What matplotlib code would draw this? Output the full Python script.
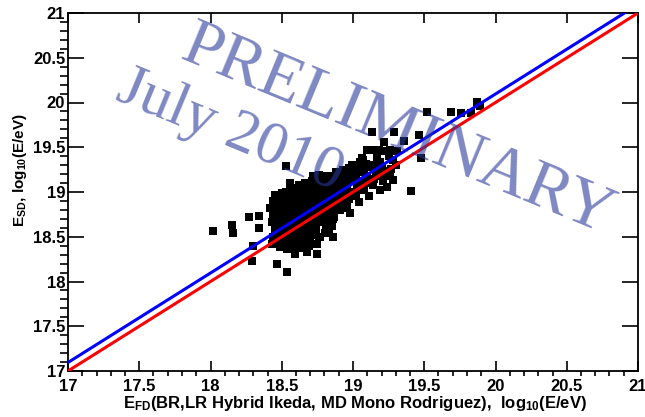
import matplotlib.pyplot as plt
from matplotlib.ticker import MultipleLocator

plt.rcParams['font.family'] = 'Liberation Sans'
plt.rcParams['font.weight'] = 'bold'
plt.rcParams['mathtext.fontset'] = 'custom'
plt.rcParams['mathtext.rm'] = 'Liberation Sans:bold'
plt.rcParams['mathtext.default'] = 'rm'

# log10(E/eV): FD reconstruction vs SD reconstruction, event by event
log_e_fd = [
    # stragglers below / left of the bulk
    18.02, 18.15, 18.16, 18.27, 18.34, 18.34, 18.30, 18.29, 18.47, 18.54,
    18.59, 18.68, 18.75, 18.53,
    # lower edge of the bulk
    18.93, 18.98, 19.04, 19.11, 19.19, 19.24, 19.28, 18.87, 18.83, 18.86,
    # high energy tail
    19.13, 19.29, 19.22, 19.36, 19.46, 19.48, 19.41, 19.52, 19.69, 19.76,
    19.83, 19.87, 19.89, 19.10, 19.14, 19.18, 19.22, 19.26, 19.31, 19.28,
    19.07, 19.01, 18.97, 18.93,
    # bulk
    18.43, 18.44, 18.45, 18.43, 18.44, 18.42, 18.44, 18.45,
    18.49, 18.48, 18.50, 18.49, 18.48, 18.50, 18.49, 18.48, 18.50,
    18.54, 18.55, 18.53, 18.54, 18.55, 18.53, 18.54, 18.55, 18.53, 18.56,
    18.59, 18.60, 18.58, 18.59, 18.60, 18.58, 18.59, 18.61, 18.59, 18.62,
    18.64, 18.65, 18.63, 18.64, 18.66, 18.64, 18.63, 18.65, 18.64, 18.66,
    18.69, 18.70, 18.68, 18.70, 18.69, 18.71, 18.69, 18.70, 18.68, 18.71, 18.72,
    18.75, 18.76, 18.74, 18.75, 18.77, 18.75, 18.74, 18.76, 18.75, 18.77, 18.76,
    18.80, 18.81, 18.79, 18.80, 18.82, 18.80, 18.79, 18.81, 18.82,
    18.85, 18.86, 18.87, 18.85, 18.86, 18.87, 18.85, 18.86, 18.88,
    18.91, 18.90, 18.92, 18.91, 18.90, 18.92, 18.93,
    18.96, 18.97, 18.98, 18.96, 18.97, 18.98, 18.99,
    19.02, 19.03, 19.04, 19.02, 19.03, 19.05,
    19.08, 19.09, 19.10, 19.08, 19.09,
    19.14, 19.15, 19.16, 19.15, 19.17,
    19.21, 19.22, 19.20,
    19.26, 19.27,
    18.46, 18.47, 18.46, 18.47, 18.46, 18.47, 18.46,
    18.51, 18.52, 18.51, 18.52, 18.51, 18.52, 18.51, 18.52,
    18.56, 18.57, 18.56, 18.57, 18.56, 18.57, 18.56, 18.57, 18.56,
    18.61, 18.62, 18.61, 18.62, 18.61, 18.62, 18.61, 18.62,
    18.66, 18.67, 18.66, 18.67, 18.66, 18.67, 18.66, 18.67, 18.66,
    18.72, 18.73, 18.72, 18.73, 18.72, 18.73, 18.72, 18.73, 18.72,
    18.77, 18.78, 18.77, 18.78, 18.77, 18.78, 18.77, 18.78,
    18.83, 18.84, 18.83, 18.84, 18.83, 18.84, 18.83,
    18.88, 18.89, 18.88, 18.89, 18.88, 18.89,
    18.94, 18.95, 18.94, 18.95, 18.94,
    19.00, 19.01, 19.00,
    19.06, 19.05, 19.06,
    19.12, 19.13,
    19.18, 19.19,
    19.24, 19.25,
    19.30,
]
log_e_sd = [
    18.56, 18.63, 18.54, 18.72, 18.73, 18.60, 18.40, 18.23, 18.20, 18.11,
    18.31, 18.33, 18.31, 19.29,
    18.82, 18.77, 18.89, 18.95, 19.02, 19.06, 19.13, 18.72, 18.55, 18.50,
    19.67, 19.67, 19.56, 19.57, 19.64, 19.38, 19.01, 19.89, 19.89, 19.88,
    19.88, 20.01, 19.96, 19.47, 19.47, 19.47, 19.46, 19.47, 19.46, 19.36,
    19.36, 19.28, 19.27, 19.19,
    18.42, 18.50, 18.58, 18.66, 18.74, 18.82, 18.90, 18.97,
    18.38, 18.46, 18.54, 18.62, 18.70, 18.78, 18.86, 18.93, 18.99,
    18.36, 18.44, 18.52, 18.60, 18.68, 18.76, 18.84, 18.92, 19.00, 19.05,
    18.38, 18.46, 18.54, 18.62, 18.70, 18.78, 18.86, 18.94, 19.02, 19.08,
    18.37, 18.45, 18.53, 18.61, 18.69, 18.77, 18.85, 18.93, 19.01, 19.10,
    18.40, 18.48, 18.56, 18.64, 18.72, 18.80, 18.88, 18.96, 19.04, 19.12, 19.18,
    18.42, 18.50, 18.58, 18.66, 18.74, 18.82, 18.90, 18.98, 19.06, 19.14, 19.19,
    18.54, 18.62, 18.70, 18.78, 18.86, 18.94, 19.02, 19.10, 19.18,
    18.62, 18.70, 18.78, 18.86, 18.94, 19.02, 19.10, 19.18, 19.22,
    18.80, 18.88, 18.96, 19.04, 19.12, 19.19, 19.25,
    18.84, 18.92, 19.00, 19.08, 19.16, 19.22, 19.30,
    18.96, 19.04, 19.12, 19.20, 19.26, 19.33,
    19.02, 19.10, 19.18, 19.25, 19.31,
    19.08, 19.15, 19.22, 19.30, 19.38,
    19.12, 19.20, 19.28,
    19.18, 19.26,
    18.50, 18.58, 18.66, 18.74, 18.82, 18.90, 18.96,
    18.40, 18.48, 18.56, 18.64, 18.72, 18.80, 18.88, 18.96,
    18.48, 18.56, 18.64, 18.72, 18.80, 18.88, 18.96, 19.04, 19.10,
    18.42, 18.50, 18.58, 18.66, 18.74, 18.82, 18.90, 18.98,
    18.41, 18.49, 18.57, 18.65, 18.73, 18.81, 18.89, 18.97, 19.05,
    18.52, 18.60, 18.68, 18.76, 18.84, 18.92, 19.00, 19.08, 19.16,
    18.50, 18.66, 18.74, 18.82, 18.90, 18.98, 19.06, 19.14,
    18.66, 18.74, 18.82, 18.90, 18.98, 19.06, 19.14,
    18.84, 18.92, 19.00, 19.08, 19.16, 19.22,
    18.82, 18.90, 18.98, 19.06, 19.14,
    18.98, 19.14, 19.30,
    19.06, 19.22, 19.38,
    19.12, 19.28,
    19.18, 19.34,
    19.23, 19.40,
    19.30,
]

axis_range = [17, 21]
equal_line = [17, 21]            # E_SD = E_FD
fit_line = [17.095, 21.095]      # calibrated SD energy

fig = plt.figure(figsize=(6.45, 4.17), dpi=100)
ax = fig.add_axes([68 / 645, 46 / 417, 570 / 645, 358 / 417])

ax.plot(log_e_fd, log_e_sd, 's', color='black', ms=5.5, mew=0, zorder=2)
ax.plot(axis_range, fit_line, color='#0000ff', lw=2.2, zorder=3)
ax.plot(axis_range, equal_line, color='#ff0000', lw=2.2, zorder=3)

ax.set_xlim(axis_range)
ax.set_ylim(axis_range)
ax.xaxis.set_major_locator(MultipleLocator(0.5))
ax.xaxis.set_minor_locator(MultipleLocator(0.1))
ax.yaxis.set_major_locator(MultipleLocator(0.5))
ax.yaxis.set_minor_locator(MultipleLocator(0.1))
ax.xaxis.set_major_formatter(lambda v, p: f'{v:g}')
ax.yaxis.set_major_formatter(lambda v, p: f'{v:g}')
ax.tick_params(direction='in', top=True, right=True, labelsize=12, width=1.2)
ax.tick_params(axis='x', which='major', length=7.5, pad=6)
ax.tick_params(axis='x', which='minor', length=3.8, width=1.2)
ax.tick_params(axis='y', which='major', length=11.5, pad=2)
ax.tick_params(axis='y', which='minor', length=5.8, width=1.2)
for s in ax.spines.values():
    s.set_linewidth(1.3)

fig.text(355 / 645, 1 - 408 / 417,
         r'E$_{\rm FD}$(BR,LR Hybrid Ikeda, MD Mono Rodriguez),  log$_{10}$(E/eV)',
         ha='center', va='baseline', fontsize=12, fontweight='bold')
fig.text(20 / 645, 1 - 170 / 417, r'E$_{\rm SD}$, log$_{10}$(E/eV)',
         rotation=90, ha='center', va='center', fontsize=11, fontweight='bold')

# watermark
wm = dict(family='Liberation Serif', fontweight='normal',
          color='#28389a', alpha=0.6, rotation=-22.5, rotation_mode='anchor',
          ha='left', va='baseline', zorder=10)
fig.text(178 / 645, 1 - 58 / 417, 'PRELIMINARY', fontsize=49, **wm)
fig.text(114 / 645, 1 - 99 / 417, 'July 2010', fontsize=44, **wm)

fig.savefig('out.png', dpi=100)
